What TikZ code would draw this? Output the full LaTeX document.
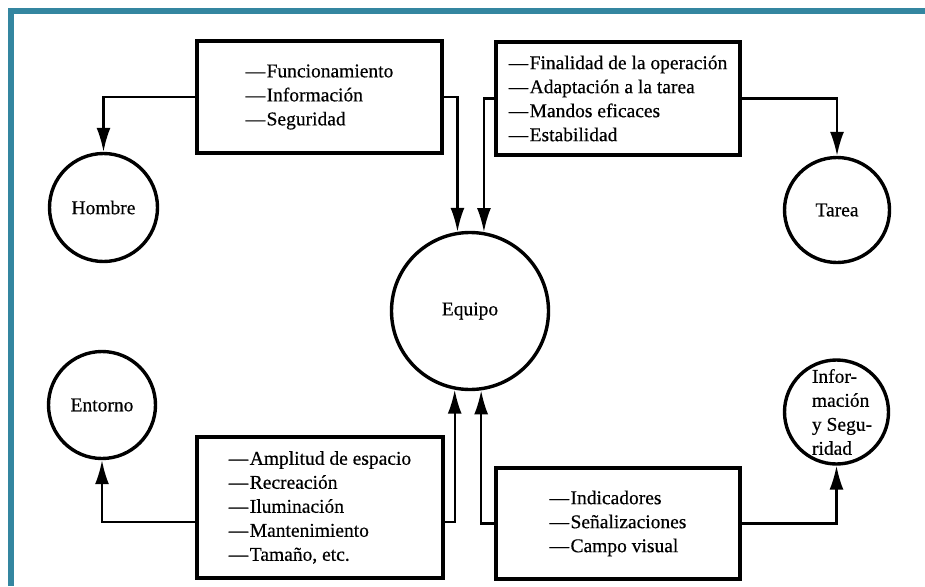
\documentclass[tikz,border=0pt]{standalone}
\usepackage{fontspec}
\setmainfont{Liberation Serif}[BoldFont=Liberation Serif, BoldFeatures={FakeBold=0.5}]
\usetikzlibrary{arrows.meta,calc}
\definecolor{framecol}{RGB}{52,134,160}
\newcommand\itemdash{—\kern1.5pt}
\begin{document}
\begin{tikzpicture}[x=1pt,y=-1pt,
  every node/.style={font=\fontsize{19.5}{24}\selectfont\bfseries},
  circ/.style={draw, circle, line width=3.4pt, inner sep=0pt},
  box/.style={draw, rectangle, line width=3.2pt, align=left, inner sep=0pt},
  arr/.style={line width=2.2pt, -{Latex[length=24pt,width=14pt]}}]
\useasboundingbox (0,0) rectangle (925,586);
\fill[framecol] (8,8) rectangle (925,14);
\fill[framecol] (8,8) rectangle (14,586);

% boxes
\node[box, minimum width=245pt, minimum height=112pt] (tl) at (319.5,97)
  {\itemdash Funcionamiento\\\itemdash Información\\\itemdash Seguridad};
\node[box, minimum width=244pt, minimum height=113pt] (tr) at (618,98.5)
  {\itemdash Finalidad de la operación\\\itemdash Adaptación a la tarea\\\itemdash Mandos eficaces\\\itemdash Estabilidad};
\node[box, minimum width=246pt, minimum height=141pt] (bl) at (320,507.5)
  {\itemdash Amplitud de espacio\\\itemdash Recreación\\\itemdash Iluminación\\\itemdash Mantenimiento\\\itemdash Tamaño, etc.};
\node[box, minimum width=244pt, minimum height=111pt] (br) at (618,523.5)
  {\itemdash Indicadores\\\itemdash Señalizaciones\\\itemdash Campo visual};

% circles
\node[circ, minimum size=108pt] (hombre) at (103.5,207.5) {Hombre};
\node[circ, minimum size=105pt] (tarea) at (837,210) {Tarea};
\node[circ, minimum size=107pt] (entorno) at (102,405) {Entorno};
\node[circ, minimum size=157pt] (equipo) at (470,311) {Equipo};
\node[circ, minimum size=104pt] (info) at (836.5,412) {};
\node[align=left, inner sep=0pt] (infotext) at (842,412) {Infor-\\mación\\y Segu-\\ridad};

% connectors
\draw[arr] (tl.west) -| (hombre.north);
\draw[arr] (tl.east) -| (equipo.99.4);
\draw[arr] (tr.west) -| (equipo.80.6);
\draw[arr] (tr.east) -| (tarea.north);
\draw[arr] (bl.west |- 0,522) -| (entorno.south);
\draw[arr] (bl.east |- 0,522) -| (equipo.259.2);
\draw[arr] (br.west) -| (equipo.278.6);
\draw[arr] (br.east) -| (info.south);
\end{tikzpicture}
\end{document}
